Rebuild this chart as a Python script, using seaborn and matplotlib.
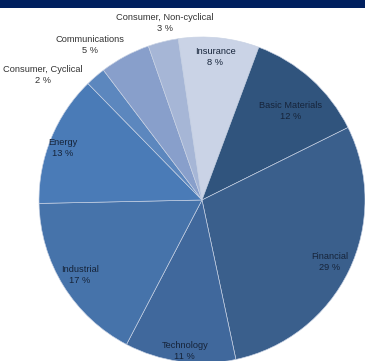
import matplotlib
matplotlib.use("Agg")
import matplotlib.pyplot as plt
import seaborn as sns
import numpy as np
from matplotlib.patches import Rectangle

sectors = ["Insurance", "Basic Materials", "Financial", "Technology", "Industrial",
           "Energy", "Consumer, Cyclical", "Communications", "Consumer, Non-cyclical"]
shares = [8, 12, 29, 11, 17, 13, 2, 5, 3]
label_pcts = ["8 %", "12 %", "29 %", "11 %", "17 %", "13 %", "2 %", "5 %", "3 %"]
colors = ["#CAD3E6", "#30547D", "#3A5F8C", "#40689C", "#4673AA",
          "#4A7BB7", "#5C87BE", "#889FCB", "#A6B6D6"]

# label layout (radial factor, angular nudge in degrees)
label_r = [0.88, 0.77, 0.87, 0.93, 0.88, 0.91, 1.24, 1.17, 1.11]
label_dang = [0.8, -2.7, 0.0, 1.3, -0.2, 1.7, 11.0, 7.6, -2.0]

sns.set_theme(style="white")
plt.rcParams['font.family'] = ['Liberation Sans', 'DejaVu Sans']

W, H = 365, 361
fig = plt.figure(figsize=(W / 100, H / 100), dpi=100)
fig.patch.set_facecolor("white")
ax = fig.add_axes([0, 0, 1, 1])

cx, cy, R = 202, H - 200, 163
wedges, _ = ax.pie(shares, colors=colors, startangle=98.4, counterclock=False,
                   center=(cx, cy), radius=R, frame=True,
                   wedgeprops=dict(edgecolor="#c8d2e4", linewidth=0.45))
ax.set_xlim(0, W)
ax.set_ylim(0, H)
ax.set_aspect("equal")
ax.axis("off")

for i, w in enumerate(wedges):
    mid = np.deg2rad((w.theta1 + w.theta2) / 2 + label_dang[i])
    r = label_r[i] * R
    x = cx + r * np.cos(mid)
    y = cy + r * np.sin(mid)
    inside = label_r[i] < 1
    ax.text(x, y, f"{sectors[i]}\n{label_pcts[i]}", ha="center", va="center",
            fontsize=6.7, linespacing=1.3,
            color="#16243a" if inside else "#333333")

fig.patches.append(Rectangle((0, 1 - 8 / H), 1, 8 / H, transform=fig.transFigure,
                             facecolor="#00205F", edgecolor="none", zorder=10))

fig.savefig("out.png", dpi=100)
